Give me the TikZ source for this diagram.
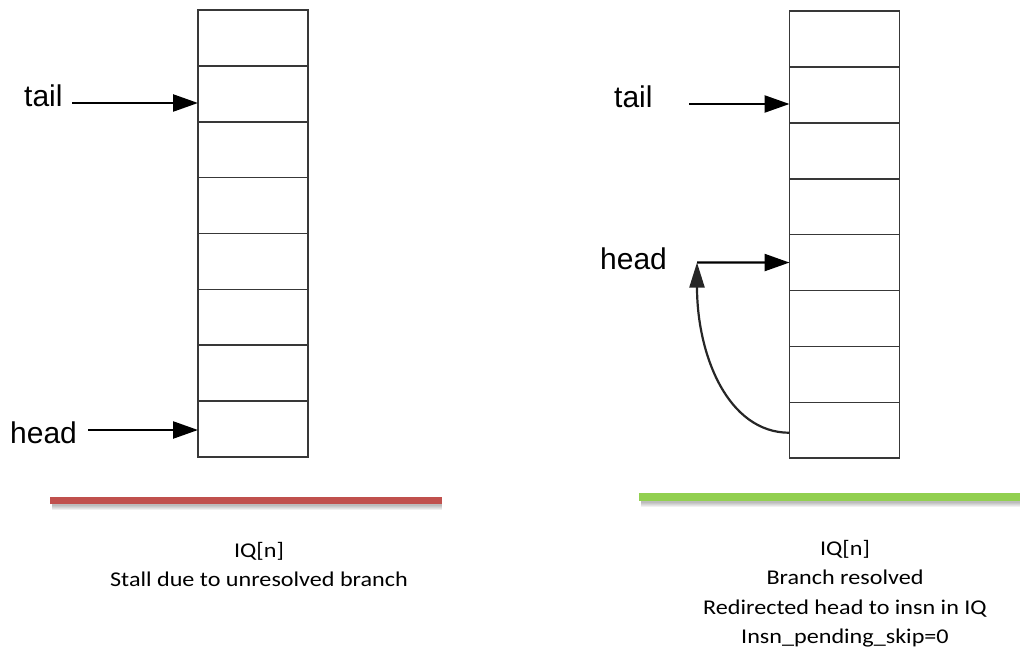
\documentclass[tikz,border=0pt]{standalone}
\usepackage{fontspec}
\setmainfont{Liberation Sans}
\newfontfamily\captionfont{Carlito}[FakeStretch=1.15]
\usetikzlibrary{arrows.meta}
\definecolor{stallred}{HTML}{C0504D}
\definecolor{okgreen}{HTML}{92D050}
\begin{document}
\begin{tikzpicture}[x=1pt,y=-1pt,
  cell/.style={draw=black!78, line width=1.6pt, minimum width=110pt,
    minimum height=55.9pt, inner sep=0pt, outer sep=0pt},
  ptr/.style={line width=2.4pt, -{Triangle[length=25pt,width=17pt]}},
  curveptr/.style={draw=black!85, line width=2.2pt,
    -{Triangle[length=25pt,width=15pt]}},
  lbl/.style={font=\fontsize{30}{36}\selectfont, inner sep=0pt, anchor=base west},
  capt/.style={font=\captionfont\fontsize{21}{29.5}\selectfont, inner sep=0pt, anchor=base},
  bar/.style={line width=7pt},
  barshadow/.style={line width=7pt, black, opacity=0.06},
]
\useasboundingbox (0,0) rectangle (1020,650);

% instruction queue, stalled
\foreach \i in {1,...,8}
  \node[cell] (L\i) at (253, {10+55.875*(\i-0.5)}) {};
% instruction queue, after the branch resolves
\foreach \i in {1,...,8}
  \node[cell] (R\i) at (844.5, {11+55.9*(\i-0.5)}) {};

% pointer labels
\node[lbl] (tailL) at (24,107) {tail};
\node[lbl] (headL) at (10,443) {head};
\node[lbl] (tailR) at (614,108) {tail};
\node[lbl] (headR) at (600,269) {head};

% pointer arrow starts
\coordinate (tLs) at (72,103);
\coordinate (hLs) at (88,430);
\coordinate (tRs) at (689,104);
\coordinate (hRs) at (697,262.5);

\draw[ptr] (tLs) -- (L2.west |- tLs);
\draw[ptr] (hLs) -- (L8.west |- hLs);
\draw[ptr] (tRs) -- (R2.west |- tRs);
\draw[ptr] (hRs) -- (R5.west);

% redirect of head
\draw[curveptr] ([yshift=-2.5pt]R8.west) .. controls +(-62,0) and +(0,92) .. (hRs);

% status bars with soft shadow
\foreach \d in {2,3,4,5,6}
  \draw[barshadow] (52,{500+\d}) -- (442,{500+\d});
\foreach \d in {2,3,4,5,6}
  \draw[barshadow] (641,{497+\d}) -- (1020,{497+\d});
\draw[bar, stallred] (50,500.5) -- (442,500.5);
\draw[bar, okgreen, line width=7.5pt] (639,497) -- (1020,497);

% captions
\node[capt] (cL1) at (259,557) {IQ[n]};
\node[capt] (cL2) at (259,586.5) {Stall due to unresolved branch};
\node[capt] (cR1) at (845,555) {IQ[n]};
\node[capt] (cR2) at (845,584.5) {Branch resolved};
\node[capt] (cR3) at (845,614) {Redirected head to insn in IQ};
\node[capt] (cR4) at (845,643.5) {Insn\_pending\_skip=0};
\end{tikzpicture}
\end{document}
